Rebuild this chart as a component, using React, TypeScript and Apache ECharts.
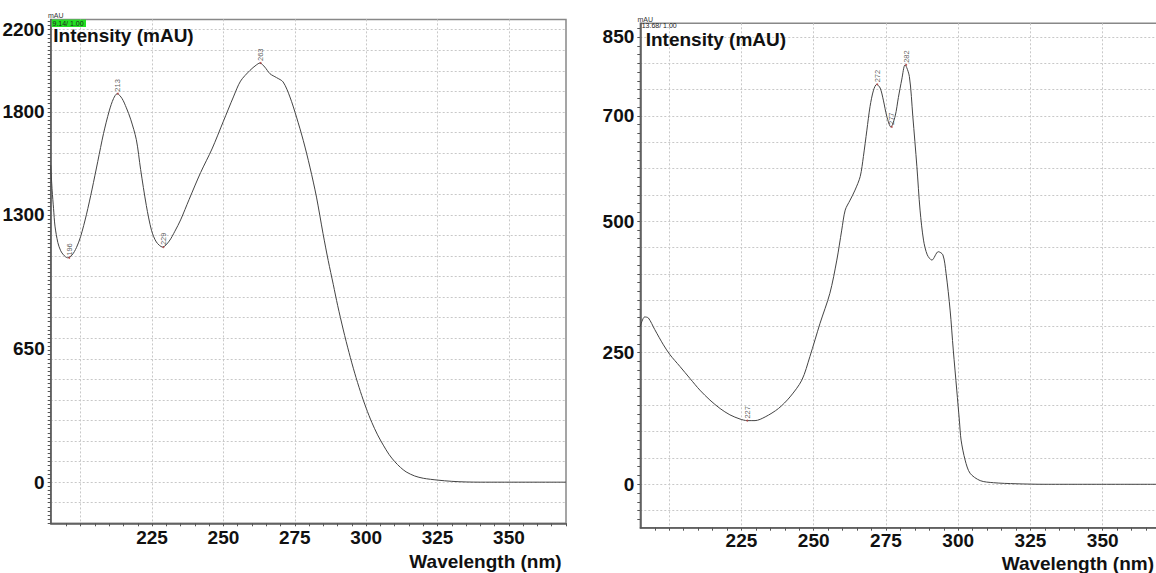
import React, { useEffect, useRef } from "react";
import * as echarts from "echarts";

// ---------- Left spectrum ----------
const L_WL = [189.5, 190, 190.5, 191, 192, 193, 194, 195.4, 197, 198.5, 200, 202, 204, 206, 208, 210, 211.5, 212.8, 214.5, 216, 217.5, 219.5, 221, 223, 224.8, 226.5, 228.7, 231, 233, 235, 238, 242, 246, 250, 253.5, 256, 259.3, 261.5, 262.8, 264.5, 266.3, 268.6, 270.9, 273.3, 275.6, 278, 280.3, 282.6, 284.9, 286.7, 288.5, 290, 292, 294, 296, 298, 300, 302, 304, 306, 308, 310, 312, 314, 317, 320, 325, 330, 335, 340, 370];
const L_INT = [1540, 1420, 1330, 1245, 1165, 1125, 1105, 1091, 1105, 1140, 1195, 1300, 1425, 1560, 1695, 1805, 1865, 1889, 1865, 1820, 1765, 1665, 1520, 1345, 1225, 1168, 1143, 1172, 1220, 1275, 1375, 1505, 1620, 1755, 1873, 1950, 2002, 2028, 2038, 2018, 1986, 1967, 1946, 1873, 1775, 1660, 1532, 1386, 1208, 1078, 960, 860, 740, 630, 530, 440, 360, 290, 230, 180, 135, 100, 72, 50, 30, 19, 10, 4, 1, 0, 0];
const L_PEAK_WL = [196, 213, 229, 263];
const L_PEAK_INT = [1091, 1889, 1143, 2038];
const L_Y_LABELS = [0, 650, 1300, 1800, 2200];
const L_Y_MIN = -200;
const L_Y_MAX = 2250;
const L_X_MIN = 189.5;
const L_X_MAX = 370;

// ---------- Right spectrum ----------
const R_WL = [190, 191.5, 192.8, 195, 198, 200.3, 203.7, 207.2, 210.6, 214.1, 217.6, 221, 224.5, 227, 229.7, 233.2, 237.8, 241.8, 245.9, 248.7, 252.2, 255.6, 258, 259.7, 260.9, 262.6, 264.3, 266.1, 267.2, 268.4, 269.5, 270.7, 271.8, 273, 274.1, 275.3, 276.7, 278.2, 279.3, 280.5, 281.6, 283.1, 284.3, 285.7, 286.8, 288, 289.3, 290.9, 293.1, 294.7, 295.8, 297.2, 298.3, 299.5, 300.4, 301, 302.4, 304.1, 307.6, 312.2, 320, 330, 370];
const R_INT = [300, 318, 316, 294, 265, 246, 224, 201, 179, 160, 144, 132, 124, 121, 121, 128, 144, 166, 198, 243, 306, 363, 426, 483, 521, 540, 559, 585, 623, 673, 718, 749, 760, 753, 730, 699, 679, 700, 735, 770, 797, 775, 699, 604, 521, 464, 436, 426, 442, 436, 401, 331, 255, 179, 122, 84, 46, 21, 7, 3, 1, 0, 0];
const R_PEAK_WL = [227, 272, 277, 282];
const R_PEAK_INT = [121, 760, 679, 797];
const R_Y_LABELS = [0, 250, 500, 700, 850];
const R_Y_MIN = -82.5;
const R_Y_MAX = 876;
const R_X_MIN = 190;
const R_X_MAX = 370;

// ---------- Shared axis values ----------
const X_LABELS = [225, 250, 275, 300, 325, 350];
const X_GRID = [200, 225, 250, 275, 300, 325, 350];

const range = (from: number, to: number, step: number) => {
  const out: number[] = [];
  for (let i = 0; from + i * step <= to + 1e-9; i++) out.push(+(from + i * step).toFixed(4));
  return out;
};

const FONT = "Liberation Sans, Arial, sans-serif";
const LABEL_STYLE = { fontFamily: FONT, fontWeight: "bold" as const, fontSize: 19, color: "#111" };
const GRID_LINE = { color: "#c8c8c8", width: 1, type: [2, 2] as number[] };
const AXIS_COLOR = "#555";
const plain = (v: number) => String(v);

function xAxes(gridIndex: number, min: number, max: number, labelMargin: number) {
  return [
    {
      type: "value", gridIndex, min, max, position: "bottom",
      axisLine: { show: true, onZero: false, lineStyle: { color: AXIS_COLOR, width: 1.5 } },
      axisTick: { show: false },
      splitLine: { show: false },
      axisLabel: { customValues: X_LABELS, margin: labelMargin, formatter: plain, ...LABEL_STYLE },
    },
    {
      type: "value", gridIndex, min, max, position: "bottom",
      axisLine: { show: false, onZero: false },
      axisTick: { show: false, customValues: X_GRID },
      axisLabel: { show: false },
      splitLine: { show: true, lineStyle: GRID_LINE },
    },
    {
      type: "value", gridIndex, min, max, position: "bottom",
      axisLine: { show: false, onZero: false },
      axisTick: { show: true, customValues: range(195, 370, 5), length: 3, lineStyle: { color: AXIS_COLOR } },
      axisLabel: { show: false },
      splitLine: { show: false },
    },
  ];
}

function yAxes(gridIndex: number, min: number, max: number, labels: number[], gridVals: number[], tickVals: number[]) {
  return [
    {
      type: "value", gridIndex, min, max, position: "left",
      axisLine: { show: true, onZero: false, lineStyle: { color: AXIS_COLOR, width: 1.5 } },
      axisTick: { show: false },
      splitLine: { show: false },
      axisLabel: { customValues: labels, margin: 6, formatter: plain, ...LABEL_STYLE },
    },
    {
      type: "value", gridIndex, min, max, position: "left",
      axisLine: { show: false, onZero: false },
      axisTick: { show: false, customValues: gridVals },
      axisLabel: { show: false },
      splitLine: { show: true, lineStyle: GRID_LINE },
    },
    {
      type: "value", gridIndex, min, max, position: "left",
      axisLine: { show: false, onZero: false },
      axisTick: { show: true, customValues: tickVals, length: 3, lineStyle: { color: AXIS_COLOR } },
      axisLabel: { show: false },
      splitLine: { show: false },
    },
  ];
}

const pairs = (a: number[], b: number[]) => a.map((x, i) => [x, b[i]]);

function peakSeries(xi: number, yi: number, wl: number[], val: number[]) {
  return {
    type: "scatter", xAxisIndex: xi, yAxisIndex: yi,
    symbolSize: 2, itemStyle: { color: "#b04040" },
    data: wl.map((w, i) => ({ value: [w, val[i]], name: String(w) })),
    label: {
      show: true, position: "top", distance: 1, rotate: 90,
      align: "left", verticalAlign: "middle",
      formatter: (p: any) => p.name,
      fontFamily: FONT, fontSize: 7.5, color: "#333",
    },
    z: 5,
  };
}

export default function App() {
  const ref = useRef<HTMLDivElement>(null);
  useEffect(() => {
    document.body.style.margin = "0";
    if (!ref.current) return;
    const chart = echarts.init(ref.current, undefined, { renderer: "svg" });
    const lGridVals = range(-100, 2200, 100);
    const lTickVals = range(-200, 2240, 20);
    const rGridVals = range(-50, 850, 50);
    const rTickVals = range(-4, 52, 1).map((k) => +(k * 50 / 3).toFixed(3));
    const option: any = {
      animation: false,
      backgroundColor: "#fff",
      grid: [
        { left: 50.7, top: 19.4, width: 515.3, height: 503.9, show: true, borderColor: "#888", borderWidth: 1.5, backgroundColor: "transparent", containLabel: false, outerBoundsMode: "none" },
        { left: 640.3, top: 23.3, width: 520.2, height: 504.4, show: true, borderColor: "#888", borderWidth: 1.5, backgroundColor: "transparent", containLabel: false, outerBoundsMode: "none" },
      ],
      xAxis: [...xAxes(0, L_X_MIN, L_X_MAX, 4.5), ...xAxes(1, R_X_MIN, R_X_MAX, 3.5)],
      yAxis: [
        ...yAxes(0, L_Y_MIN, L_Y_MAX, L_Y_LABELS, lGridVals, lTickVals),
        ...yAxes(1, R_Y_MIN, R_Y_MAX, R_Y_LABELS, rGridVals, rTickVals),
      ],
      series: [
        {
          type: "line", xAxisIndex: 0, yAxisIndex: 0, data: pairs(L_WL, L_INT),
          showSymbol: false, smooth: 0.3, lineStyle: { color: "#444", width: 1 }, z: 4,
        },
        {
          type: "line", xAxisIndex: 3, yAxisIndex: 3, data: pairs(R_WL, R_INT),
          showSymbol: false, smooth: 0.3, lineStyle: { color: "#444", width: 1 }, z: 4,
        },
        peakSeries(0, 0, L_PEAK_WL, L_PEAK_INT),
        peakSeries(3, 3, R_PEAK_WL, R_PEAK_INT),
      ],
      graphic: [
        { type: "text", left: 53.3, top: 26, style: { text: "Intensity (mAU)", font: "bold 19px " + FONT, fill: "#111" }, z: 10 },
        { type: "text", left: 645.7, top: 29.5, style: { text: "Intensity (mAU)", font: "bold 19px " + FONT, fill: "#111" }, z: 10 },
        { type: "text", right: 1156 - 561.7, top: 552, style: { text: "Wavelength (nm)", font: "bold 19px " + FONT, fill: "#111" }, z: 10 },
        { type: "text", right: 2, top: 554, style: { text: "Wavelength (nm)", font: "bold 19px " + FONT, fill: "#111" }, z: 10 },
        { type: "text", left: 48, top: 12, style: { text: "mAU", font: "7px " + FONT, fill: "#333" }, z: 10 },
        { type: "rect", shape: { x: 51.7, y: 19.6, width: 34.3, height: 7.4 }, style: { fill: "#22e022" }, z: 9 },
        { type: "text", left: 52.5, top: 19.8, style: { text: "9.14/ 1.00", font: "7px " + FONT, fill: "#222" }, z: 10 },
        { type: "text", left: 637.5, top: 16, style: { text: "mAU", font: "7px " + FONT, fill: "#333" }, z: 10 },
        { type: "text", left: 641.7, top: 22.3, style: { text: "13.68/ 1.00", font: "7px " + FONT, fill: "#222" }, z: 10 },
      ],
    };
    chart.setOption(option);
    return () => chart.dispose();
  }, []);
  return <div ref={ref} style={{ width: 1156, height: 573 }} />;
}
